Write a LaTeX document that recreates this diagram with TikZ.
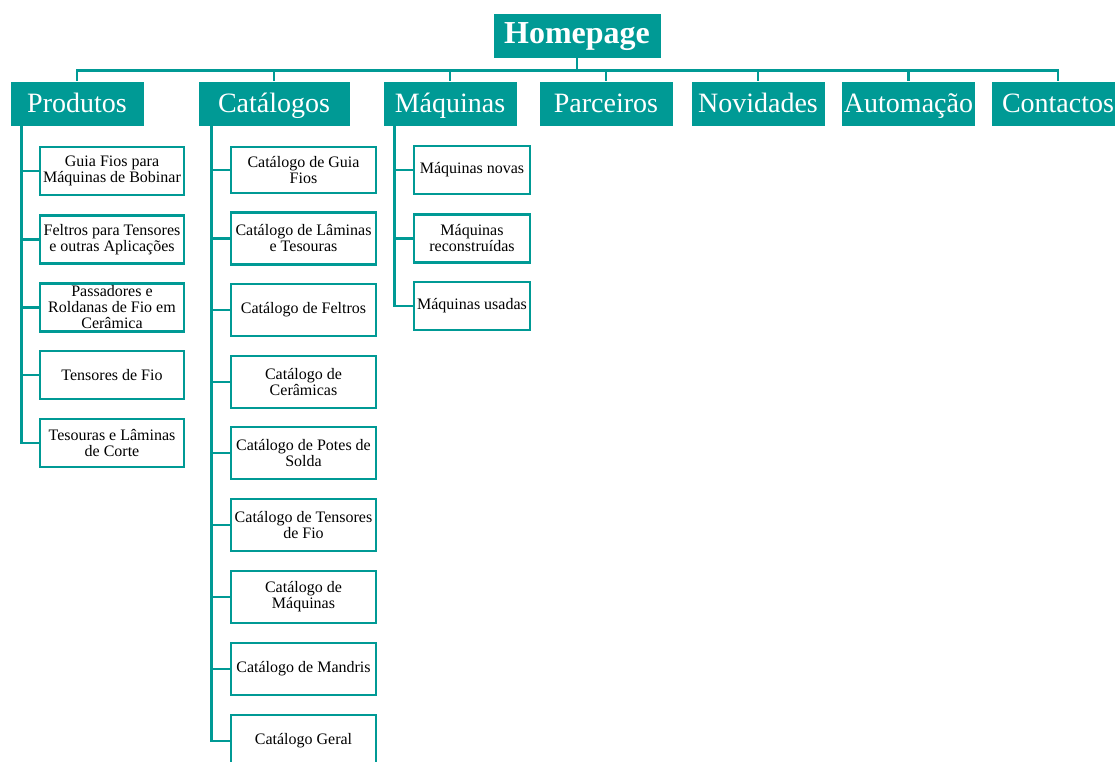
\documentclass[tikz,border=0pt]{standalone}
\usepackage{fontspec}
\setmainfont{Liberation Serif}
\usetikzlibrary{positioning, calc}
\definecolor{mapteal}{HTML}{009A95}
\tikzset{
    topbox/.style={rectangle, fill=mapteal, draw=white, line width=0.6pt, text=white,
                   minimum width=100.5pt, minimum height=33.75pt, inner sep=1pt,
                   text height=16.5pt, text depth=3.5pt,
                   font=\fontsize{21}{24}\selectfont},
    homebox/.style={topbox, minimum width=126pt, text height=16.5pt, text depth=5pt,
                    font=\fontsize{24}{28}\selectfont\bfseries},
    subbox/.style={rectangle, draw=mapteal, line width=2pt, fill=white,
                   minimum width=108pt, minimum height=36pt, align=center,
                   inner xsep=1pt, inner ysep=0pt, font=\fontsize{12}{12}\selectfont},
    catbox/.style={subbox, minimum width=108.75pt, minimum height=39pt},
    maqbox/.style={subbox, minimum width=87pt},
    link/.style={draw=mapteal, line width=2.2pt},
}
\begin{document}
\begin{tikzpicture}[x=0.75pt, y=-0.75pt]
  \useasboundingbox (0,0) rectangle (1115,762);

  % Top level
  \node[homebox] (home) at (577,35.5) {Homepage};
  \node[topbox] (prod) at (77,103.5) {Produtos};
  \node[topbox, minimum width=114pt] (cat) at (274,103.5) {Catálogos};
  \node[topbox] (maq) at (450,103.5) {Máquinas};
  \node[topbox] (parc) at (606,103.5) {Parceiros};
  \node[topbox] (nov) at (758,103.5) {Novidades};
  \node[topbox] (auto) at (908.5,103.5) {Automação};
  \node[topbox] (cont) at (1058,103.5) {Contactos};

  \coordinate (bus) at ($(home.south)+(0,12)$);
  \foreach \n in {prod,cat,maq,parc,nov,auto,cont}
    \draw[link] (home.south) -- (bus) -| (\n.north);

  % Produtos
  \node[subbox] (p1) at (112,171) {Guia Fios para\\Máquinas de Bobinar};
  \node[subbox] (p2) at (112,239.5) {Feltros para Tensores\\e outras Aplicações};
  \node[subbox] (p3) at (112,307.5) {Passadores e\\Roldanas de Fio em\\Cerâmica};
  \node[subbox] (p4) at (112,375) {Tensores de Fio};
  \node[subbox] (p5) at (112,443) {Tesouras e Lâminas\\de Corte};
  \foreach \i in {1,...,5}
    \draw[link] ($(prod.south west)+(12,0)$) |- (p\i.west);

  % Catálogos
  \node[catbox, minimum height=34.5pt] (c1) at (303.5,170) {Catálogo de Guia\\Fios};
  \node[catbox] (c2) at (303.5,238.5) {Catálogo de Lâminas\\e Tesouras};
  \node[catbox] (c3) at (303.5,310) {Catálogo de Feltros};
  \node[catbox] (c4) at (303.5,382) {Catálogo de\\Cerâmicas};
  \node[catbox] (c5) at (303.5,453) {Catálogo de Potes de\\Solda};
  \node[catbox] (c6) at (303.5,525) {Catálogo de Tensores\\de Fio};
  \node[catbox] (c7) at (303.5,597) {Catálogo de\\Máquinas};
  \node[catbox] (c8) at (303.5,669) {Catálogo de Mandris};
  \node[catbox] (c9) at (303.5,741) {Catálogo Geral};
  \foreach \i in {1,...,9}
    \draw[link] ($(cat.south west)+(14,0)$) |- (c\i.west);

  % Máquinas
  \node[maqbox] (m1) at (472,170) {Máquinas novas};
  \node[maqbox] (m2) at (472,238.5) {Máquinas\\reconstruídas};
  \node[maqbox] (m3) at (472,306) {Máquinas usadas};
  \foreach \i in {1,...,3}
    \draw[link] ($(maq.south west)+(12,0)$) |- (m\i.west);

\end{tikzpicture}
\end{document}
